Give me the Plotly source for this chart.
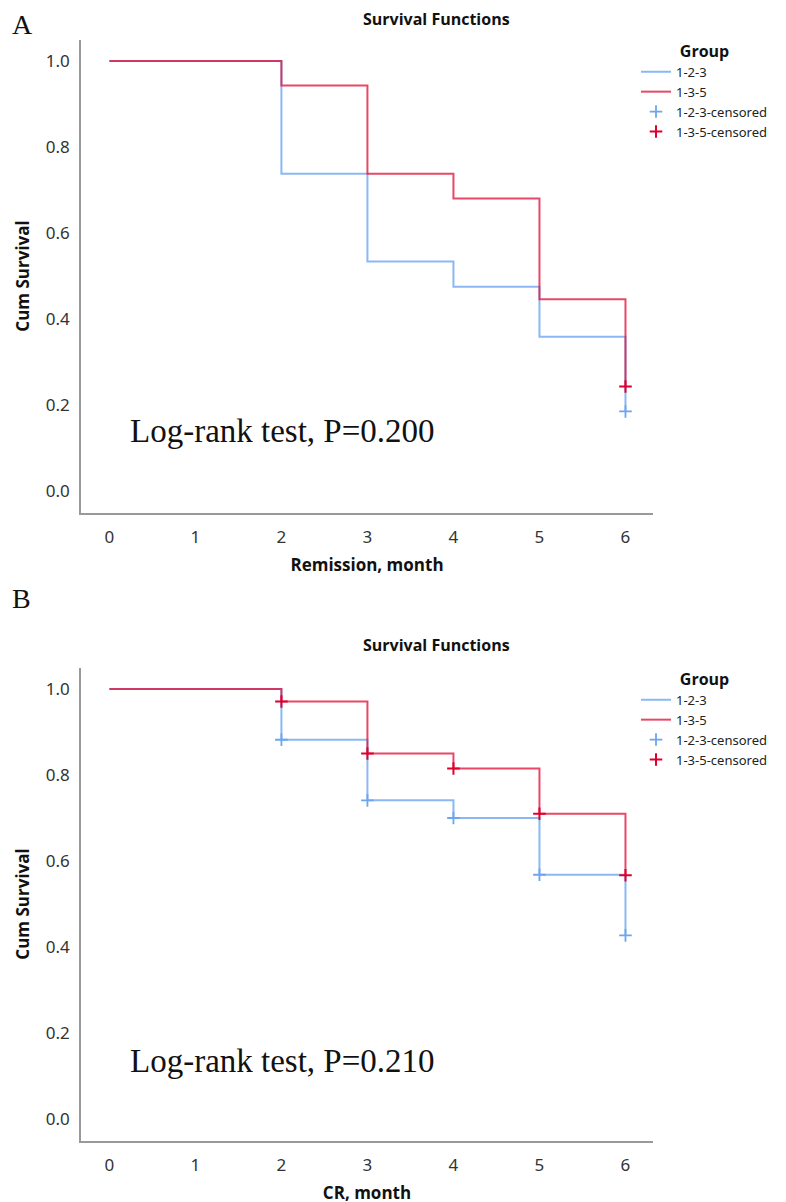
import plotly.graph_objects as go

# Panel A: remission
months_a = [0, 2, 3, 4, 5, 6]
surv_a_123 = [1.0, 0.738, 0.534, 0.475, 0.359, 0.185]
surv_a_135 = [1.0, 0.943, 0.738, 0.680, 0.446, 0.243]
cens_a_123_x = [6]
cens_a_123_y = [0.185]
cens_a_135_x = [6]
cens_a_135_y = [0.243]

# Panel B: CR
months_b = [0, 2, 3, 4, 5, 6]
surv_b_123 = [1.0, 0.882, 0.741, 0.700, 0.568, 0.427]
surv_b_135 = [1.0, 0.971, 0.850, 0.815, 0.710, 0.567]
cens_b_123_x = [2, 3, 4, 5, 6]
cens_b_123_y = [0.882, 0.741, 0.700, 0.568, 0.427]
cens_b_135_x = [2, 3, 4, 5, 6]
cens_b_135_y = [0.971, 0.850, 0.815, 0.710, 0.567]

x_ticks = [0, 1, 2, 3, 4, 5, 6]
y_ticks = [0.0, 0.2, 0.4, 0.6, 0.8, 1.0]

BLUE = "rgba(100,160,240,0.75)"
RED = "rgba(225,20,60,0.78)"
BLUE_MK = "rgb(110,165,240)"
RED_MK = "rgb(222,0,45)"

W, H = 786, 1202


def px_y(top, bottom):
  # pixel rows -> paper domain
  return [(H - bottom) / H, (H - top) / H]


fig = go.Figure()


def add_panel(fig, xs, s123, s135, c123x, c123y, c135x, c135y, xa, ya, leg):
  fig.add_trace(go.Scatter(x=xs, y=s123, mode="lines", line=dict(shape="hv", color=BLUE, width=2),
                           name="1-2-3", xaxis=xa, yaxis=ya, legend=leg))
  fig.add_trace(go.Scatter(x=xs, y=s135, mode="lines", line=dict(shape="hv", color=RED, width=2),
                           name="1-3-5", xaxis=xa, yaxis=ya, legend=leg))
  fig.add_trace(go.Scatter(x=c123x, y=c123y, mode="markers",
                           marker=dict(symbol="cross-thin", size=9, line=dict(color=BLUE_MK, width=1.8)),
                           name="1-2-3-censored", xaxis=xa, yaxis=ya, legend=leg))
  fig.add_trace(go.Scatter(x=c135x, y=c135y, mode="markers",
                           marker=dict(symbol="cross-thin", size=9, line=dict(color=RED_MK, width=2)),
                           name="1-3-5-censored", xaxis=xa, yaxis=ya, legend=leg))


add_panel(fig, months_a, surv_a_123, surv_a_135, cens_a_123_x, cens_a_123_y,
          cens_a_135_x, cens_a_135_y, "x", "y", "legend")
add_panel(fig, months_b, surv_b_123, surv_b_135, cens_b_123_x, cens_b_123_y,
          cens_b_135_x, cens_b_135_y, "x2", "y2", "legend2")

tick_font = dict(family="Noto Sans", size=17, color="#333")
title_font = dict(family="Open Sans", size=17, color="#111")

x_common = dict(range=[-0.33, 6.32], tickvals=x_ticks, showgrid=False, zeroline=False,
                showline=True, linecolor="#999", linewidth=1.5, ticks="", tickfont=tick_font,
                ticklabelstandoff=8, domain=[73 / W, 645 / W], fixedrange=True)
y_common = dict(range=[-0.05, 1.05], tickvals=y_ticks, tickformat=".1f", showgrid=False,
                zeroline=False, showline=True, linecolor="#999", linewidth=1.5, ticks="",
                tickfont=tick_font, ticklabelstandoff=6, fixedrange=True)

leg_common = dict(x=628 / W, xanchor="left", yanchor="top", bgcolor="rgba(0,0,0,0)",
                  font=dict(family="Noto Sans", size=13, color="#222"),
                  title=dict(text="<b>Group</b>", side="top center",
                             font=dict(family="Open Sans", size=16, color="#111")),
                  tracegroupgap=0, itemwidth=30)

fig.update_layout(
  width=W, height=H,
  margin=dict(l=0, r=0, t=0, b=0),
  paper_bgcolor="white", plot_bgcolor="white",
  showlegend=True,
  xaxis=dict(x_common, anchor="y",
             title=dict(text="<b>Remission, month</b>", font=title_font, standoff=12)),
  yaxis=dict(y_common, anchor="x", domain=px_y(31.5, 504.5),
             title=dict(text="<b>Cum Survival</b>", font=title_font, standoff=12)),
  xaxis2=dict(x_common, anchor="y2",
              title=dict(text="<b>CR, month</b>", font=title_font, standoff=12)),
  yaxis2=dict(y_common, anchor="x2", domain=px_y(659.5, 1132.5),
              title=dict(text="<b>Cum Survival</b>", font=title_font, standoff=12)),
  legend=dict(leg_common, y=1 - 28 / H),
  legend2=dict(leg_common, y=1 - 656 / H),
)

serif = dict(family="Liberation Serif", color="#111")
fig.add_annotation(x=0.22, y=0.14, xref="x", yref="y", text="Log-rank test, P=0.200",
                   showarrow=False, xanchor="left", yanchor="middle", font=dict(serif, size=33))
fig.add_annotation(x=0.22, y=0.135, xref="x2", yref="y2", text="Log-rank test, P=0.210",
                   showarrow=False, xanchor="left", yanchor="middle", font=dict(serif, size=33))

# panel letters and titles
for letter, y0 in (("A", 17), ("B", 590)):
  fig.add_annotation(x=2 / W, y=1 - y0 / H, xref="paper", yref="paper", text=letter,
                     showarrow=False, xanchor="left", yanchor="middle", font=dict(serif, size=28))
for y0 in (11, 637):
  fig.add_annotation(x=428 / W, y=1 - y0 / H, xref="paper", yref="paper",
                     text="<b>Survival Functions</b>", showarrow=False, xanchor="center",
                     yanchor="middle", font=dict(family="Open Sans", size=16, color="#111"))

fig.write_html("out.html")
